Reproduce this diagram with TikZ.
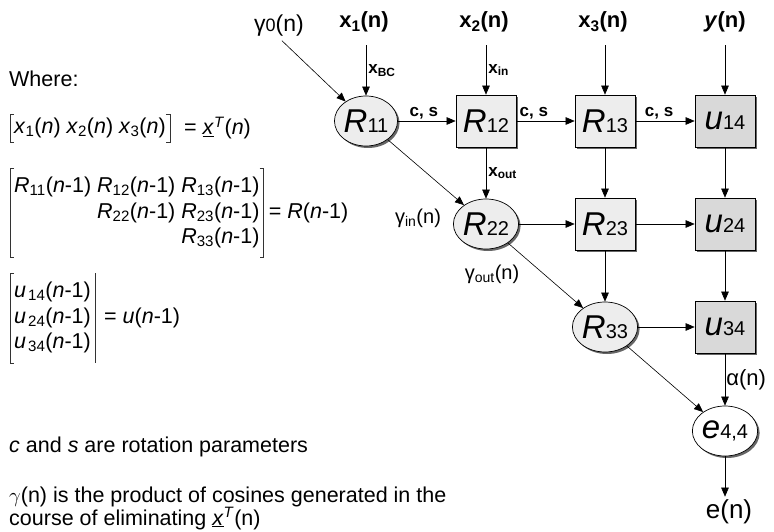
\documentclass[tikz,border=0pt]{standalone}
\usepackage{fontspec}
\setmainfont{Liberation Sans}
\usetikzlibrary{shapes.geometric,arrows.meta,shadows}

\newcommand{\cname}[2]{{\fontsize{33}{33}\selectfont\itshape #1}{\fontsize{20}{20}\selectfont #2}}
\newcommand{\vecx}[1]{\textit{x}\textsubscript{#1}(\textit{n})}
\newcommand{\rowR}[1]{\textit{R}\textsubscript{#1}(\textit{n}-1)}
\newcommand{\colu}[1]{\textit{u}\kern2pt\textsubscript{#1}(\textit{n}-1)}
\newcommand{\xT}{\underline{\textit{x}}\textsuperscript{\textit{T}}}

\tikzset{
  castshadow/.style={drop shadow={shadow xshift=2pt, shadow yshift=-2pt, fill=black!60, opacity=1}},
  rot/.style={ellipse, draw, line width=0.7pt, fill=black!7, minimum width=62pt, minimum height=50pt, inner sep=0pt, castshadow},
  cell/.style={rectangle, draw, line width=0.7pt, fill=black!7, minimum width=60pt, minimum height=52pt, inner sep=0pt, castshadow},
  ucell/.style={cell, fill=black!15},
  outcell/.style={rot, fill=white},
  flow/.style={-{Triangle[length=9pt,width=7.5pt]}, line width=0.6pt},
  toplab/.style={font=\fontsize{22}{22}\selectfont\bfseries, inner sep=1pt},
  elab/.style={font=\fontsize{17}{17}\selectfont\bfseries, inner sep=2pt},
  gam/.style={font=\fontsize{20}{20}\selectfont, inner sep=1pt},
  txt/.style={font=\fontsize{21.5}{25.5}\selectfont, inner sep=0pt},
  mat/.style={txt, inner xsep=4pt},
  brk/.style={line width=0.6pt, black!80}
}

\begin{document}
\begin{tikzpicture}[x=1pt, y=-1pt]
    \useasboundingbox (0,0) rectangle (774,532);
    % 説明文
    \node[txt, anchor=base west] (where) at (9,87) {Where:};
    \node[mat, inner ysep=1pt, anchor=west] (xm) at (10,128)
        {\begin{tabular}{@{}l@{}}\vecx{1} \vecx{2} \vecx{3}\end{tabular}};
    \node[txt, anchor=west] (xeq) at ([xshift=14pt]xm.east) {= \xT(\textit{n})};
    \node[mat, inner ysep=6pt, anchor=west] (Rm) at (10,213)
        {\begin{tabular}{@{}r@{}}\rowR{11} \rowR{12} \rowR{13}\\
          \rowR{22} \rowR{23}\\ \rowR{33}\end{tabular}};
    \node[txt, anchor=west] (Req) at ([xshift=5pt]Rm.east) {= \textit{R}(\textit{n}-1)};
    \node[mat, inner ysep=6.5pt, anchor=west] (um) at (10,318)
        {\begin{tabular}{@{}l@{}}\colu{14}\\ \colu{24}\\ \colu{34}\end{tabular}};
    \node[txt, anchor=west] (ueq) at ([xshift=9pt]um.east) {= \textit{u}(\textit{n}-1)};
    % 括弧
    \draw[brk] ([xshift=4pt]xm.north west) -- (xm.north west) -- (xm.south west) -- ([xshift=4pt]xm.south west);
    \draw[brk] ([xshift=-4pt]xm.north east) -- (xm.north east) -- (xm.south east) -- ([xshift=-4pt]xm.south east);
    \draw[brk] ([xshift=4pt]Rm.north west) -- (Rm.north west) -- (Rm.south west) -- ([xshift=4pt]Rm.south west);
    \draw[brk] ([xshift=-4pt]Rm.north east) -- (Rm.north east) -- (Rm.south east) -- ([xshift=-4pt]Rm.south east);
    \draw[brk] ([xshift=4pt]um.north west) -- (um.north west) -- (um.south west) -- ([xshift=4pt]um.south west);
    \draw[brk] (um.north east) -- (um.south east);
    \node[txt, anchor=base west] (csdef) at (9,452) {\textit{c} and \textit{s} are rotation parameters};
    \node[txt, anchor=base west] (gdef1) at (9,502) {$\gamma$(n) is the product of cosines generated in the};
    \node[txt, anchor=base west] (gdef2) at (9,525) {course of eliminating \xT(n)};
    % セル
    \node[rot] (R11) at (366,121) {\cname{R}{11}};
    \node[cell] (R12) at (486,121) {\cname{R}{12}};
    \node[cell] (R13) at (605,121) {\cname{R}{13}};
    \node[ucell] (u14) at (725,121) {\cname{u}{14}};
    \node[rot] (R22) at (486,224) {\cname{R}{22}};
    \node[cell] (R23) at (605,224) {\cname{R}{23}};
    \node[ucell] (u24) at (725,224) {\cname{u}{24}};
    \node[rot] (R33) at (605,327) {\cname{R}{33}};
    \node[ucell] (u34) at (725,327) {\cname{u}{34}};
    \node[outcell] (e44) at (725,431) {\cname{e}{4,4}};
    % 入出力
    \node[toplab] (x1) at (364,22) {x\textsubscript{1}(n)};
    \node[toplab] (x2) at (484,22) {x\textsubscript{2}(n)};
    \node[toplab] (x3) at (603,22) {x\textsubscript{3}(n)};
    \node[toplab] (yn) at (725,22) {\textit{y}(n)};
    \node[gam, font=\fontsize{23}{23}\selectfont] (g0) at (279,26) {γ{\fontsize{18}{18}\selectfont 0}(n)};
    \node[gam] (gin) at (418,218) {γ\textsubscript{in}(n)};
    \node[gam] (gout) at (492,274) {γ\textsubscript{out}(n)};
    \node[font=\fontsize{26}{26}\selectfont, inner sep=1pt] (en) at (729,512) {e(n)};
    % 矢印
    \draw[flow, shorten <=4pt] (g0.south) -- (R11);
    \draw[flow, shorten <=12pt] (x1.south -| R11) -- (R11) node[elab, pos=0.6, right] {x\textsubscript{BC}};
    \draw[flow, shorten <=12pt] (x2.south -| R12) -- (R12) node[elab, pos=0.6, right] {x\textsubscript{in}};
    \draw[flow, shorten <=12pt] (x3.south -| R13) -- (R13);
    \draw[flow, shorten <=12pt] (yn) -- (u14);
    \draw[flow] (R11) -- (R12) node[elab, pos=0.45, above] {c, s};
    \draw[flow] (R12) -- (R13) node[elab, pos=0.3, above] {c, s};
    \draw[flow] (R13) -- (u14) node[elab, pos=0.4, above] {c, s};
    \draw[flow] (R11) -- (R22);
    \draw[flow] (R12) -- (R22) node[elab, midway, right] {x\textsubscript{out}};
    \draw[flow] (R13) -- (R23);
    \draw[flow] (u14) -- (u24);
    \draw[flow] (R22) -- (R23);
    \draw[flow] (R23) -- (u24);
    \draw[flow] (R22) -- (R33);
    \draw[flow] (R23) -- (R33);
    \draw[flow] (u24) -- (u34);
    \draw[flow] (R33) -- (u34);
    \draw[flow] (R33) -- (e44);
    \draw[flow] (u34) -- (e44) node[gam, font=\fontsize{22}{22}\selectfont, midway, right] {α(n)};
    \draw[flow, shorten >=2pt] (e44) -- (en.north -| e44);
\end{tikzpicture}
\end{document}
